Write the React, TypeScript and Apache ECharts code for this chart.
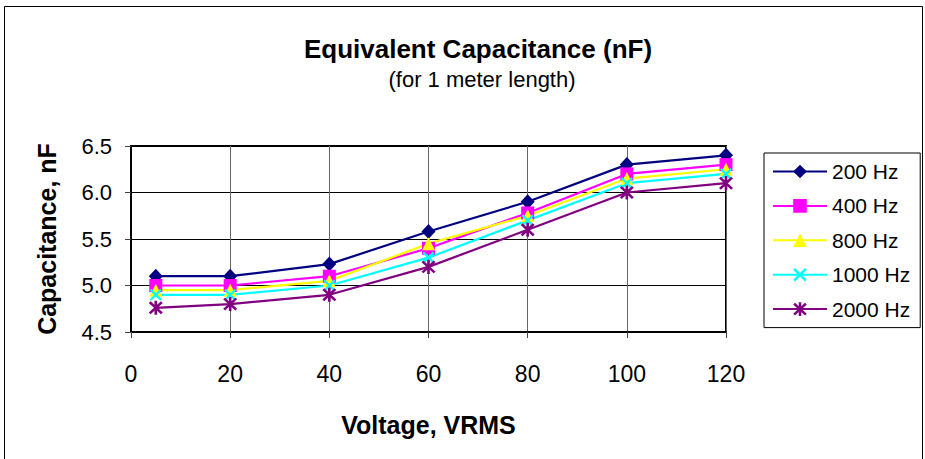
import React, { useEffect, useRef } from "react";
import * as echarts from "echarts";

const voltages = [5, 20, 40, 60, 80, 100, 120];
const seriesNames = ["200 Hz", "400 Hz", "800 Hz", "1000 Hz", "2000 Hz"];
const hz200 = [5.1, 5.1, 5.23, 5.58, 5.9, 6.3, 6.4];
const hz400 = [5.0, 5.0, 5.1, 5.4, 5.78, 6.2, 6.3];
const hz800 = [4.95, 4.95, 5.05, 5.45, 5.75, 6.15, 6.25];
const hz1000 = [4.9, 4.9, 5.0, 5.3, 5.7, 6.1, 6.2];
const hz2000 = [4.76, 4.8, 4.9, 5.2, 5.6, 6.0, 6.1];
const yTicks = [4.5, 5.0, 5.5, 6.0, 6.5];
const xTicks = [0, 20, 40, 60, 80, 100, 120];

const FONT = "'Liberation Sans', Arial, sans-serif";

const X_PATH =
  "path://M0.76,3.24 L16.76,19.24 L19.24,16.76 L3.24,0.76 Z M19.24,3.24 L16.76,0.76 L0.76,16.76 L3.24,19.24 Z";
const STAR_PATH =
  "path://M0.76,3.24 L16.76,19.24 L19.24,16.76 L3.24,0.76 Z M19.24,3.24 L16.76,0.76 L0.76,16.76 L3.24,19.24 Z M8.25,0 L8.25,20 L11.75,20 L11.75,0 Z";

export default function App() {
  const ref = useRef<HTMLDivElement>(null);

  useEffect(() => {
    if (!ref.current) return;
    const chart = echarts.init(ref.current, null, { renderer: "svg" });
    const values = [hz200, hz400, hz800, hz1000, hz2000];
    const colors = ["#000080", "#FF00FF", "#FFFF00", "#00FFFF", "#800080"];
    const symbols = ["diamond", "rect", "triangle", X_PATH, STAR_PATH];
    const sizes: any[] = [[14, 15], 13, 13, 12, 14];

    chart.setOption({
      animation: false,
      backgroundColor: "#ffffff",
      title: [
        {
          text: "Equivalent Capacitance (nF)",
          left: 473,
          top: 31,
          textAlign: "center",
          textStyle: { fontFamily: FONT, fontSize: 26, fontWeight: "bold", color: "#000" },
        },
        {
          text: "(for 1 meter length)",
          left: 477,
          top: 63,
          textAlign: "center",
          textStyle: { fontFamily: FONT, fontSize: 22, fontWeight: "normal", color: "#000" },
        },
      ],
      graphic: [
        {
          type: "rect",
          shape: { x: 4.5, y: 6.5, width: 918, height: 470 },
          style: { fill: "none", stroke: "#000", lineWidth: 1 },
          silent: true,
          z: -10,
        },
      ],
      legend: {
        data: seriesNames,
        orient: "vertical",
        left: 764,
        top: 153,
        borderColor: "#000",
        borderWidth: 1,
        padding: [8, 10, 8, 8],
        itemWidth: 54,
        itemHeight: 17,
        itemGap: 13.4,
        textStyle: { fontFamily: FONT, fontSize: 21, color: "#000", lineHeight: 21 },
      },
      grid: {
        left: 131,
        right: 199,
        top: 146,
        bottom: 127,
        show: true,
        borderColor: "#000",
        borderWidth: 2,
        backgroundColor: "transparent",
      },
      xAxis: {
        type: "value",
        min: xTicks[0],
        max: xTicks[xTicks.length - 1],
        interval: 20,
        name: "Voltage, VRMS",
        nameLocation: "middle",
        nameGap: 80,
        nameTextStyle: { fontFamily: FONT, fontSize: 25, fontWeight: "bold", color: "#000" },
        axisLine: { show: true, lineStyle: { color: "#000", width: 2 } },
        axisTick: { show: true, inside: false, length: 6, lineStyle: { color: "#444", width: 1 } },
        axisLabel: { fontFamily: FONT, fontSize: 23, color: "#000", margin: 30 },
        splitLine: { show: true, lineStyle: { color: "#666", width: 1 } },
      },
      yAxis: {
        type: "value",
        min: yTicks[0],
        max: yTicks[yTicks.length - 1],
        interval: 0.5,
        name: "Capacitance, nF",
        nameLocation: "middle",
        nameGap: 72,
        nameTextStyle: { fontFamily: FONT, fontSize: 25, fontWeight: "bold", color: "#000" },
        axisLine: { show: true, lineStyle: { color: "#000", width: 2 } },
        axisTick: { show: true, inside: false, length: 6, lineStyle: { color: "#444", width: 1 } },
        axisLabel: {
          fontFamily: FONT,
          fontSize: 22,
          color: "#000",
          margin: 19,
          formatter: (v: number) => v.toFixed(1),
        },
        splitLine: { show: true, lineStyle: { color: "#000", width: 1 } },
      },
      series: seriesNames.map((name, i) => ({
        name,
        type: "line",
        data: voltages.map((v, j) => [v, values[i][j]]),
        symbol: symbols[i],
        symbolSize: sizes[i],
        showSymbol: true,
        lineStyle: { color: colors[i], width: 2.2 },
        itemStyle: { color: colors[i], opacity: 1 },
        emphasis: { disabled: true },
      })),
    });

    return () => chart.dispose();
  }, []);

  return (
    <div
      ref={ref}
      style={{ position: "fixed", left: 0, top: 0, width: 925, height: 459 }}
    />
  );
}
